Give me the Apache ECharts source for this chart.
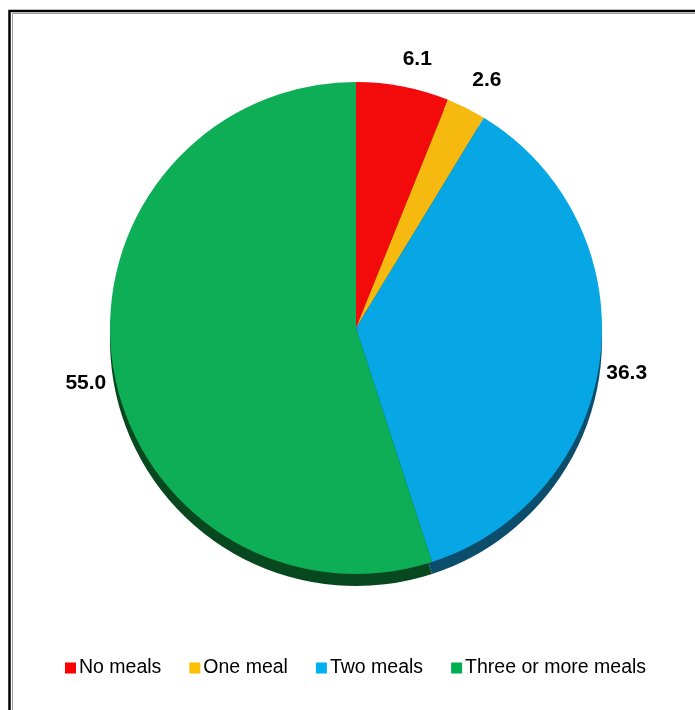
<!DOCTYPE html>
<html>
<head>
<meta charset="utf-8">
<script src="https://cdn.jsdelivr.net/npm/echarts@6/dist/echarts.min.js"></script>
<style>
  html, body { margin: 0; padding: 0; background: #fff; }
  #main { width: 695px; height: 710px; }
</style>
</head>
<body>
<div id="main"></div>
<script>
// meals per day, percent
var categories = ['No meals', 'One meal', 'Two meals', 'Three or more meals'];
var values = [6.1, 2.6, 36.3, 55.0];
var faceColors = ['#F30A0A', '#F5B90F', '#07A6E4', '#0EAE56'];
var edgeColors = ['#6e0505', '#6e5206', '#0b4d6b', '#08481f'];
var legendColors = ['#FF0000', '#FFC000', '#00B0F0', '#00B050'];

var chart = echarts.init(document.getElementById('main'));

var faceData = categories.map(function (name, i) {
  return { name: name, value: values[i], itemStyle: { color: faceColors[i] } };
});
var edgeData = categories.map(function (name, i) {
  return { name: name, value: values[i], itemStyle: { color: edgeColors[i] } };
});

// nudge the value labels to where excel put them
var labelShift = [[-9, -8], [-8, -10], [-19, 14], [18, 14]];

chart.setOption({
  animation: false,
  graphic: [
    { type: 'rect', shape: { x: 9.5, y: 11, width: 720, height: 740 }, style: { fill: 'none', stroke: '#000', lineWidth: 2.5 } },
    { type: 'rect', shape: { x: 12.5, y: 13.5, width: 720, height: 740 }, style: { fill: 'none', stroke: '#999', lineWidth: 1 } }
  ],
  legend: {
    data: categories.map(function (name, i) {
      return { name: name, itemStyle: { color: legendColors[i] } };
    }),
    top: 653,
    left: 60,
    itemWidth: 11,
    itemHeight: 11,
    itemGap: 28,
    icon: 'rect',
    textStyle: { fontFamily: 'Liberation Sans, Arial, sans-serif', fontSize: 19.5, color: '#000', padding: [0, 0, 0, -2] }
  },
  series: [
    {
      type: 'pie',
      center: [356, 328],
      radius: 246,
      startAngle: 90,
      label: {
        show: true,
        position: 'outside',
        formatter: function (p) { return p.value.toFixed(1); },
        fontFamily: 'Liberation Sans, Arial, sans-serif',
        fontWeight: 'bold',
        fontSize: 21,
        color: '#000'
      },
      labelLine: { show: false, length: 20, length2: 0 },
      labelLayout: function (params) {
        var s = labelShift[params.dataIndex];
        return { dx: s[0], dy: s[1] };
      },
      data: faceData,
      z: 2
    },
    {
      // dark rim underneath, gives the tilted 3D edge
      type: 'pie',
      silent: true,
      center: [356, 340],
      radius: 246,
      startAngle: 90,
      label: { show: false },
      labelLine: { show: false },
      data: edgeData,
      z: 1
    }
  ]
});
</script>
</body>
</html>
